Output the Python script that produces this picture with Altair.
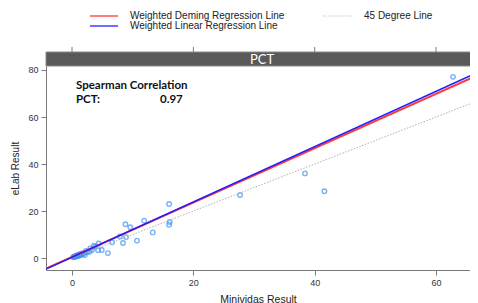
import altair as alt
import pandas as pd

# ---- data ----
minividas = [0.2, 0.3, 0.4, 0.5, 0.6, 0.7, 0.8, 0.9, 1.0, 1.1, 1.2, 1.3, 1.5, 1.6, 1.8,
             2.0, 2.1, 2.3, 2.5, 2.9, 3.0, 3.3, 3.6, 3.8, 4.3, 4.4, 4.9, 5.9, 6.6, 7.9,
             8.4, 8.9, 8.8, 9.6, 10.7, 11.9, 13.3, 16.0, 16.1, 16.0, 27.7, 38.4, 41.6, 62.8]
elab = [0.3, 0.5, 0.4, 0.8, 0.6, 1.0, 0.7, 1.2, 0.9, 1.4, 1.1, 1.6, 1.3, 1.9, 1.7,
        2.2, 1.3, 3.0, 2.4, 2.7, 4.1, 3.4, 5.2, 4.8, 3.3, 6.2, 3.4, 2.1, 6.7, 9.2,
        6.4, 8.9, 14.4, 13.1, 7.4, 15.9, 10.9, 23.0, 15.3, 14.2, 26.8, 36.0, 28.4, 77.1]

line_x = [-4.3, 66.9]
deming_y = [-4.5, 77.8]
linear_y = [-4.7, 79.0]
degree45_y = [-4.3, 66.9]

x_ticks = [0, 20, 40, 60]
y_ticks = [0, 20, 40, 60, 80]

panel_title = "PCT"
spearman_label = "Spearman Correlation"
spearman_name = "PCT:"
spearman_value = "0.97"
legend_labels = ["Weighted Deming Regression Line", "Weighted Linear Regression Line", "45 Degree Line"]

# ---- tables ----
pts = pd.DataFrame({"x": minividas, "y": elab})
lines = pd.DataFrame({
    "x": line_x * 3,
    "y": deming_y + linear_y + degree45_y,
    "series": ["deming"] * 2 + ["linear"] * 2 + ["d45"] * 2,
})
ticks_df = pd.DataFrame({"x": x_ticks})
one = pd.DataFrame({"a": [0]})

W, H = 424, 204
FONT = "Liberation Sans"
xs = alt.Scale(domain=[-4.29, 65.6], nice=False, zero=False)
ys = alt.Scale(domain=[-5.1, 81.7], nice=False, zero=False)

x_axis = alt.Axis(values=x_ticks, title="Minividas Result", grid=False, tickSize=5,
                  domainColor="#7a7a7a", tickColor="#7a7a7a", labelColor="#333333",
                  labelFont=FONT, labelFontSize=9, titleFont=FONT, titleFontSize=10.5,
                  titleFontWeight="normal", titleColor="#222222", titlePadding=7,
                  labelPadding=3)
y_axis = alt.Axis(values=y_ticks, title="eLab Result", grid=False, tickSize=5,
                  domainColor="#7a7a7a", tickColor="#7a7a7a", labelColor="#333333",
                  labelFont=FONT, labelFontSize=9, titleFont=FONT, titleFontSize=10,
                  titleFontWeight="normal", titleColor="#222222", titlePadding=7,
                  labelPadding=3)

points = alt.Chart(pts).mark_point(shape="circle", filled=False, color="#3f93f2",
                                   size=20, strokeWidth=1.4).encode(
    x=alt.X("x:Q", scale=xs, axis=x_axis),
    y=alt.Y("y:Q", scale=ys, axis=y_axis),
)

d45 = alt.Chart(lines).transform_filter(alt.datum.series == "d45").mark_line(
    color="#b0b0b0", strokeWidth=1, strokeDash=[1.5, 1.5], clip=True).encode(
    x=alt.X("x:Q", scale=xs), y=alt.Y("y:Q", scale=ys))
deming = alt.Chart(lines).transform_filter(alt.datum.series == "deming").mark_line(
    color="#ff3a3a", strokeWidth=2, clip=True).encode(
    x=alt.X("x:Q", scale=xs), y=alt.Y("y:Q", scale=ys))
linear = alt.Chart(lines).transform_filter(alt.datum.series == "linear").mark_line(
    color="#1f1fff", strokeWidth=1.6, clip=True).encode(
    x=alt.X("x:Q", scale=xs), y=alt.Y("y:Q", scale=ys))

# strip
strip = alt.Chart(one).mark_rect(color="#595959", stroke="#8a8a8a", strokeWidth=1).encode(
    x=alt.value(0), x2=alt.value(W + 2), y=alt.value(-14), y2=alt.value(0))
strip_text = alt.Chart(one).mark_text(color="white", font="Lato", fontSize=13,
                                      baseline="middle", align="center").encode(
    x=alt.value(216), y=alt.value(-6.5), text=alt.value(panel_title))
top_ticks = alt.Chart(ticks_df).mark_rule(color="#7a7a7a", strokeWidth=1, clip=False).encode(
    x=alt.X("x:Q", scale=xs), y=alt.value(-19), y2=alt.value(-14))

# annotation
ann_style = dict(font="Lato", fontSize=11.5, fontWeight="bold", color="#111111",
                 align="left", baseline="middle")
ann1 = alt.Chart(one).mark_text(**ann_style).encode(
    x=alt.value(30), y=alt.value(20), text=alt.value(spearman_label))
ann2 = alt.Chart(one).mark_text(**ann_style).encode(
    x=alt.value(30), y=alt.value(34), text=alt.value(spearman_name))
ann3 = alt.Chart(one).mark_text(**ann_style).encode(
    x=alt.value(114), y=alt.value(34), text=alt.value(spearman_value))

# legend
leg_red = alt.Chart(one).mark_rule(color="#ff3a3a", strokeWidth=1.3).encode(
    x=alt.value(44), x2=alt.value(72), y=alt.value(-50))
leg_blue = alt.Chart(one).mark_rule(color="#1f1fff", strokeWidth=1.3).encode(
    x=alt.value(44), x2=alt.value(72), y=alt.value(-40))
leg_dot = alt.Chart(one).mark_rule(color="#b0b0b0", strokeWidth=1, strokeDash=[1, 1.5]).encode(
    x=alt.value(277), x2=alt.value(306), y=alt.value(-50))
leg_style = dict(font=FONT, fontSize=10, color="#222222", align="left", baseline="middle")
leg_t1 = alt.Chart(one).mark_text(**leg_style).encode(
    x=alt.value(84), y=alt.value(-50), text=alt.value(legend_labels[0]))
leg_t2 = alt.Chart(one).mark_text(**leg_style).encode(
    x=alt.value(84), y=alt.value(-40), text=alt.value(legend_labels[1]))
leg_t3 = alt.Chart(one).mark_text(**leg_style).encode(
    x=alt.value(318), y=alt.value(-50), text=alt.value(legend_labels[2]))

chart = alt.layer(
    points, d45, deming, linear, strip, strip_text, top_ticks,
    ann1, ann2, ann3, leg_red, leg_blue, leg_dot, leg_t1, leg_t2, leg_t3,
).properties(
    width=W, height=H,
    padding={"left": 38, "top": 58, "right": 0, "bottom": 33},
    autosize=alt.AutoSizeParams(type="none"),
).configure_view(stroke=None)

chart.save("out.html", embed_options={"renderer": "svg", "actions": False})
